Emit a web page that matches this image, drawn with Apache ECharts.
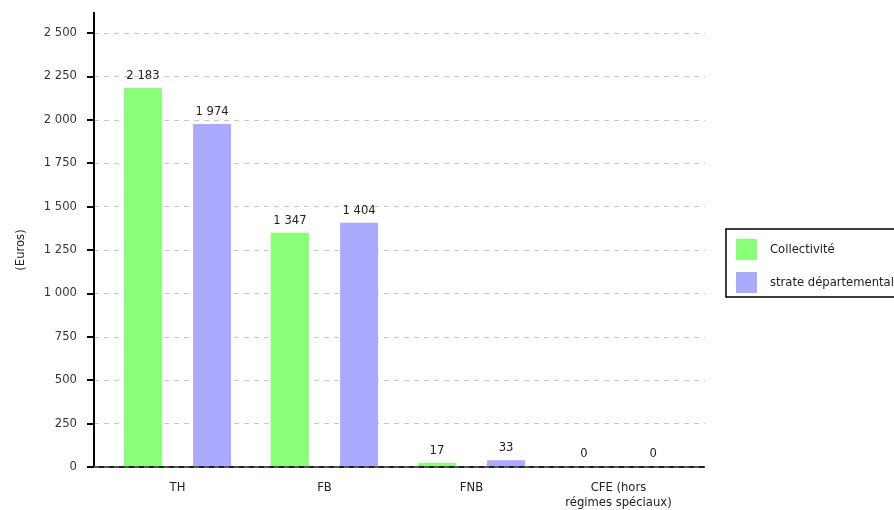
<!DOCTYPE html>
<html><head><meta charset="utf-8">
<script src="https://cdn.jsdelivr.net/npm/echarts@6/dist/echarts.min.js"></script>
<style>html,body{margin:0;padding:0;background:#fff}#c{width:894px;height:510px}</style>
</head><body><div id="c"></div>
<script>
const categories = ['TH', 'FB', 'FNB', 'CFE (hors\nrégimes spéciaux)'];
const collectivite = [2183, 1347, 17, 0];
const strate = [1974, 1404, 33, 0];
const seriesNames = ['Collectivité', 'strate départementale'];
const yMin = 0, yMax = 2500, yStep = 250;

const fmt = v => String(Math.round(v)).replace(/\B(?=(\d{3})+(?!\d))/g, ' ');
const font = 'DejaVu Sans, Verdana, sans-serif';
const fs = 11.6;

const chart = echarts.init(document.getElementById('c'));
chart.setOption({
  animation: false,
  textStyle: { fontFamily: font },
  grid: [
    { left: 94, right: 189, top: 33, bottom: 43 },
    { left: 104, right: 202, top: 33, bottom: 43 }
  ],
  legend: {
    orient: 'vertical', left: 726, top: 229,
    data: seriesNames,
    icon: 'rect', itemWidth: 21, itemHeight: 21, itemGap: 12,
    borderColor: '#000', borderWidth: 1.5, borderRadius: 0,
    padding: [10, 40, 4, 10],
    textStyle: { fontFamily: font, fontSize: fs, color: '#222', padding: [0, 0, 0, 8] }
  },
  xAxis: [
    { type: 'value', gridIndex: 0, show: false, min: 0, max: 1 },
    {
      type: 'category', gridIndex: 1, data: categories,
      axisLine: { show: false }, axisTick: { show: false },
      axisLabel: { fontFamily: font, fontSize: fs, color: '#222', margin: 14, lineHeight: 15 }
    }
  ],
  yAxis: [
    {
      type: 'value', gridIndex: 0, min: yMin, max: yMax, interval: yStep,
      name: '(Euros)', nameLocation: 'middle', nameGap: 67,
      nameTextStyle: { fontFamily: font, fontSize: fs, color: '#222' },
      axisLine: { show: true, lineStyle: { color: '#000', width: 2 } },
      axisTick: { show: true, length: 7, lineStyle: { color: '#000', width: 2 } },
      axisLabel: { fontFamily: font, fontSize: fs, color: '#333', margin: 17, formatter: fmt },
      splitLine: { show: true, lineStyle: { color: '#c8c8c8', type: [5, 5], width: 1 } }
    },
    { type: 'value', gridIndex: 1, min: yMin, max: yMax, interval: yStep, show: false }
  ],
  graphic: [
    { type: 'line', shape: { x1: 94, y1: 12, x2: 94, y2: 34 }, style: { stroke: '#000', lineWidth: 2 } },
    { type: 'line', shape: { x1: 94, y1: 467, x2: 705, y2: 467 }, style: { stroke: '#222', lineWidth: 2 }, z: 10 },
    { type: 'line', shape: { x1: 94, y1: 467, x2: 705, y2: 467 }, style: { stroke: '#888', lineWidth: 1, lineDash: [5, 5] }, z: 11 }
  ],
  series: [
    {
      name: seriesNames[0], type: 'bar', xAxisIndex: 1, yAxisIndex: 1,
      data: collectivite, barWidth: 38, barGap: '82%',
      itemStyle: { color: '#88ff77' },
      label: { show: true, position: 'top', distance: 6, fontFamily: font, fontSize: fs, color: '#222', formatter: p => fmt(p.value) }
    },
    {
      name: seriesNames[1], type: 'bar', xAxisIndex: 1, yAxisIndex: 1,
      data: strate, barWidth: 38,
      itemStyle: { color: '#aaaaff' },
      label: { show: true, position: 'top', distance: 6, fontFamily: font, fontSize: fs, color: '#222', formatter: p => fmt(p.value) }
    }
  ]
});
</script></body></html>
